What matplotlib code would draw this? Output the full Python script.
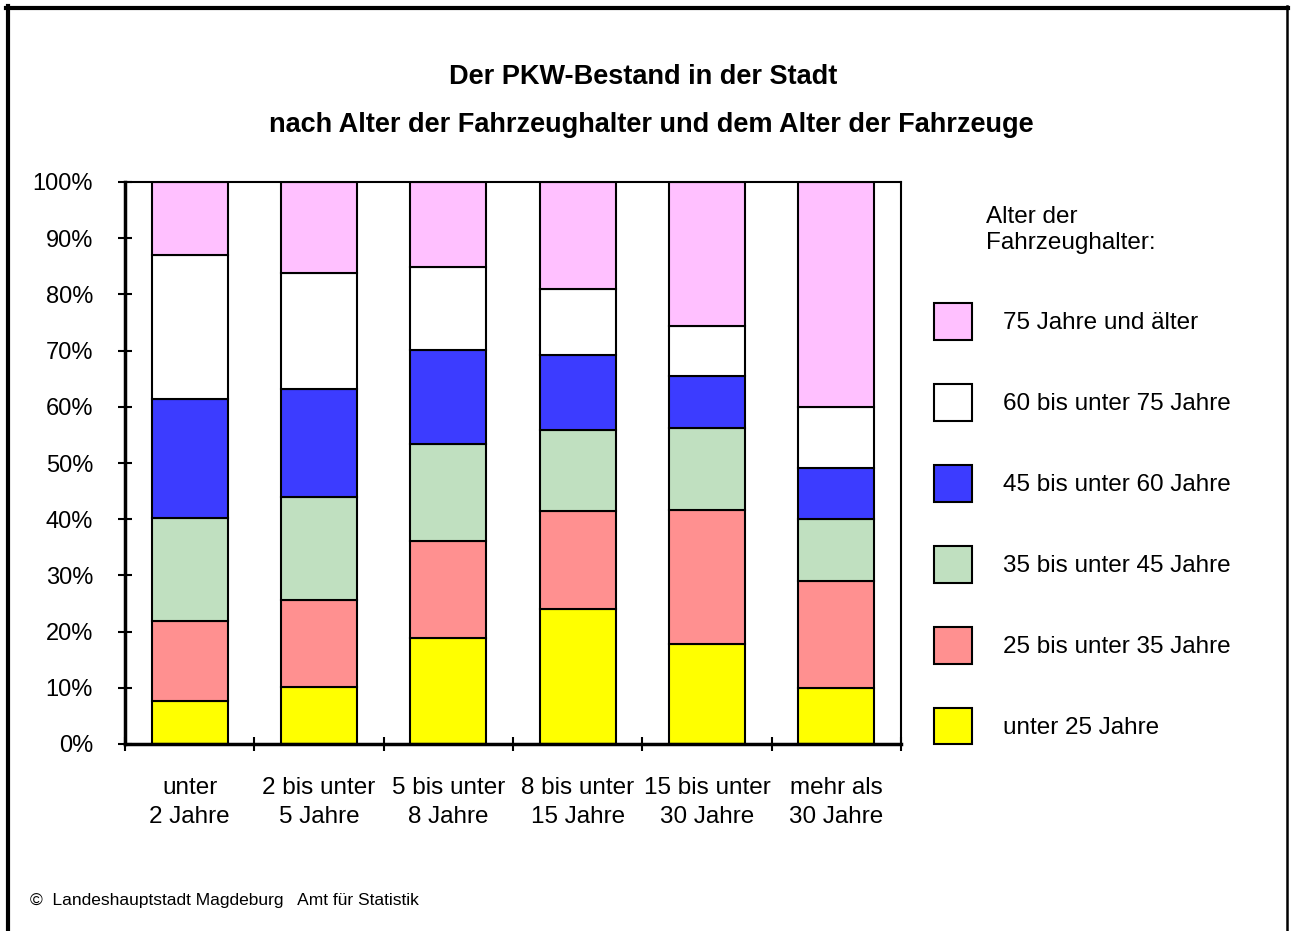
import matplotlib
matplotlib.use('Agg')
import matplotlib.pyplot as plt
from matplotlib.lines import Line2D
import numpy as np

plt.rcParams['font.family'] = ['Liberation Sans', 'DejaVu Sans']

# Alter der Fahrzeuge (Kategorien)
categories = ['unter\n2 Jahre', '2 bis unter\n5 Jahre', '5 bis unter\n8 Jahre',
              '8 bis unter\n15 Jahre', '15 bis unter\n30 Jahre', 'mehr als\n30 Jahre']

# Anteile je Altersgruppe der Halter (in %), von unten nach oben
unter25 = [7.7, 10.1, 18.9, 24.0, 17.8, 10.0]
a25_35 = [14.2, 15.5, 17.2, 17.5, 23.8, 19.0]
a35_45 = [18.3, 18.4, 17.3, 14.4, 14.6, 11.0]
a45_60 = [21.2, 19.2, 16.7, 13.3, 9.3, 9.1]
a60_75 = [25.6, 20.6, 14.8, 11.8, 8.9, 10.9]
ab75 = [13.0, 16.2, 15.1, 19.0, 25.6, 40.0]

series = [unter25, a25_35, a35_45, a45_60, a60_75, ab75]
labels = ['unter 25 Jahre', '25 bis unter 35 Jahre', '35 bis unter 45 Jahre',
          '45 bis unter 60 Jahre', '60 bis unter 75 Jahre', '75 Jahre und älter']
colors = ['#FFFF00', '#FF9090', '#C0E0C0', '#3C3CFF', '#FFFFFF', '#FFC0FF']

W, H = 1291, 931
FS = 17.5
fig = plt.figure(figsize=(W / 100, H / 100), dpi=100)
ax = fig.add_axes([125 / W, (H - 744) / H, 776 / W, 562 / H])

x = np.arange(len(categories))
bottom = np.zeros(len(categories))
handles = []
for vals, lab, col in zip(series, labels, colors):
    b = ax.bar(x, vals, width=0.59, bottom=bottom, color=col,
               edgecolor='black', linewidth=1.5, label=lab)
    handles.append(b)
    bottom += np.array(vals)

ax.set_xlim(-0.5, 5.5)
ax.set_ylim(0, 100)
ax.set_yticks(np.arange(0, 101, 10))
ax.set_yticklabels([f'{v}%' for v in range(0, 101, 10)], fontsize=17)
ax.set_xticks(np.arange(-0.5, 6, 1))
ax.set_xticklabels([''] * 7)
ax.set_xticks(x, minor=True)
ax.set_xticklabels(categories, minor=True, fontsize=FS)
ax.tick_params(axis='x', which='minor', length=0, pad=24)
ax.tick_params(axis='x', which='major', direction='inout', length=10, width=1.5)
ax.tick_params(axis='y', direction='inout', length=10, width=1.5, pad=18)
for t in ax.get_xticklabels(minor=True):
    t.set_multialignment('center')
    t.set_linespacing(1.42)

for s in ['left', 'bottom']:
    ax.spines[s].set_linewidth(2.5)
for s in ['top', 'right']:
    ax.spines[s].set_linewidth(1.5)

# Legende
leg = ax.legend(handles[::-1], labels[::-1], loc='upper left',
                bbox_to_anchor=(934 / W, (H - 303) / H),
                bbox_transform=fig.transFigure, frameon=False,
                fontsize=FS, handlelength=1.56, handleheight=1.96,
                labelspacing=1.81, handletextpad=1.28, borderpad=0,
                borderaxespad=0)
fig.text(986 / W, (H - 230) / H, 'Alter der\nFahrzeughalter:', fontsize=FS,
         va='center', ha='left', linespacing=1.27)

# Titel
fig.text(643 / W, (H - 77) / H, 'Der PKW-Bestand in der Stadt',
         fontsize=19.5, fontweight='bold', ha='center', va='center')
fig.text(651 / W, (H - 125) / H,
         'nach Alter der Fahrzeughalter und dem Alter der Fahrzeuge',
         fontsize=19.5, fontweight='bold', ha='center', va='center')

# Fußzeile
fig.text(30 / W, (H - 901) / H,
         '©  Landeshauptstadt Magdeburg   Amt für Statistik',
         fontsize=12.5, ha='left', va='center')

# Rahmen
fig.add_artist(Line2D([8 / W, 8 / W], [0, (H - 6) / H], color='black',
                      linewidth=3, transform=fig.transFigure))
fig.add_artist(Line2D([6 / W, 1288 / W], [(H - 8) / H, (H - 8) / H],
                      color='black', linewidth=3, transform=fig.transFigure))
fig.add_artist(Line2D([1287 / W, 1287 / W], [0, (H - 6) / H], color='black',
                      linewidth=1.8, transform=fig.transFigure))

fig.savefig('out.png', dpi=100)
